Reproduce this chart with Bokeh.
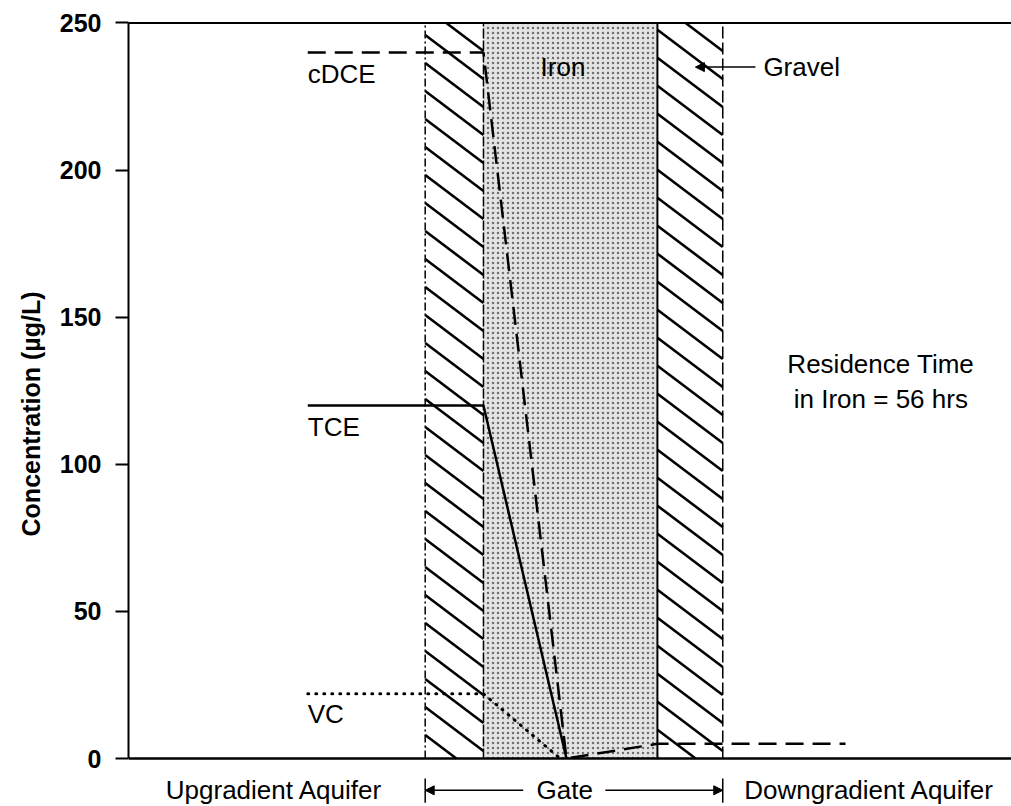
from bokeh.plotting import figure
from bokeh.models import Range1d, FixedTicker, Span, Arrow, NormalHead
from bokeh.core.properties import value
from bokeh.embed import file_html
from bokeh.resources import INLINE

# ---- data (distance along flow path, arbitrary units 0-100; concentration in ug/L)
gravel_left = [33.6, 59.9]
gravel_right = [40.2, 67.3]
iron_left = [40.2]
iron_right = [59.9]

dist_cdce = [20.3, 40.2, 49.6, 59.9, 81.2]
conc_cdce = [240, 240, 0, 5, 5]
dist_tce = [20.3, 40.2, 49.6]
conc_tce = [120, 120, 0]
dist_vc = [20.3, 40.2, 48.9]
conc_vc = [22, 22, 0]

y_ticks = [0, 50, 100, 150, 200, 250]
region_labels = ["Upgradient Aquifer", "Gate", "Downgradient Aquifer"]
region_centers = [16.5, 49.4, 83.9]

FONT = value("Liberation Sans")
X0, X1, Y0, Y1 = 0, 100, -16.3, 250.5
W, H, BL, BT = 1011, 806, 128, 21
PX_X = (W - BL) / (X1 - X0)      # pixels per x unit
PX_Y = (H - BT) / (Y1 - Y0)      # pixels per y unit

p = figure(width=W, height=H, output_backend="svg", toolbar_location=None,
           x_range=Range1d(X0, X1), y_range=Range1d(Y0, Y1),
           x_axis_location=None, y_axis_location="left",
           min_border_left=BL, min_border_right=0, min_border_top=BT, min_border_bottom=0)
p.outline_line_color = None
p.grid.visible = False
p.background_fill_color = "white"

# iron zone (stippled)
p.quad(left=iron_left, right=iron_right, bottom=0, top=250, fill_color="#e4e4e4",
       line_color=None, hatch_pattern="dot", hatch_scale=5, hatch_weight=1.6, hatch_color="#6f6f6f")

# gravel zones: white with diagonal hatch lines (style: ~37 deg, 28 px apart)
hx0, hy0, hx1, hy1 = [], [], [], []
for l, r in zip(gravel_left, gravel_right):
    drop = (r - l) * PX_X * 0.754 / PX_Y
    step = 28 / PX_Y
    y = 250 + drop
    while y > 0:
        xa, ya, xb, yb = l, y, r, y - drop
        if ya > 250:
            xa = l + (ya - 250) / drop * (r - l)
            ya = 250
        if yb < 0:
            xb = l + y / drop * (r - l)
            yb = 0
        if xb > xa:
            hx0.append(xa); hy0.append(ya); hx1.append(xb); hy1.append(yb)
        y -= step
p.quad(left=gravel_left, right=gravel_right, bottom=0, top=250, fill_color="white", line_color=None)
p.segment(x0=hx0, y0=hy0, x1=hx1, y1=hy1, line_color="black", line_width=2.6)

# zone boundaries
p.line([gravel_left[0]] * 2, [0, 250], line_color="black", line_width=1.5, line_dash="8 3 2 3")
p.line([iron_left[0]] * 2, [0, 250], line_color="black", line_width=1.5, line_dash="10 2")
p.line([iron_right[0]] * 2, [0, 250], line_color="black", line_width=2)
p.line([gravel_right[1]] * 2, [0, 250], line_color="black", line_width=1.5, line_dash="12 4")

# frame lines
p.add_layout(Span(location=250, dimension="width", line_color="black", line_width=2))
p.add_layout(Span(location=0, dimension="width", line_color="black", line_width=2.5))

# concentration profiles
p.line(dist_cdce, conc_cdce, line_color="black", line_width=2.5, line_dash="18 9")
p.line(dist_tce, conc_tce, line_color="black", line_width=2.5)
p.line(dist_vc, conc_vc, line_color="black", line_width=3, line_dash="1 7", line_cap="round")

# labels
p.text(x=[dist_cdce[0], dist_tce[0], dist_vc[0]], y=[232.5, 112.6, 15.3],
       text=["cDCE", "TCE", "VC"], text_font=FONT, text_font_size="26px",
       text_baseline="middle", text_align="left", text_color="black")
p.text(x=[49.2], y=[235.2], text=["Iron"], text_font=FONT, text_font_size="26px",
       text_baseline="middle", text_align="center", text_color="black")
p.text(x=[71.9], y=[235.0], text=["Gravel"], text_font=FONT, text_font_size="26px",
       text_baseline="middle", text_align="left", text_color="black")
p.add_layout(Arrow(end=NormalHead(size=9, fill_color="black", line_color="black"),
                   x_start=71.0, y_start=235.0, x_end=64.2, y_end=235.0,
                   line_color="black", line_width=1.5))
p.text(x=[85.2, 85.2], y=[134.0, 122.1], text=["Residence Time", "in Iron = 56 hrs"],
       text_font=FONT, text_font_size="26px", text_baseline="middle", text_align="center",
       text_color="black")

# bottom region labels
p.text(x=region_centers, y=[-10.7] * 3, text=region_labels, text_font=FONT,
       text_font_size="26px", text_baseline="middle", text_align="center", text_color="black")
p.segment(x0=[gravel_left[0], gravel_right[1]], y0=[-6.8, -6.8],
          x1=[gravel_left[0], gravel_right[1]], y1=[-15.0, -15.0], line_color="black", line_width=1.5)
p.add_layout(Arrow(end=NormalHead(size=9, fill_color="black", line_color="black"),
                   x_start=44.7, y_start=-10.8, x_end=gravel_left[0], y_end=-10.8,
                   line_color="black", line_width=1.5))
p.add_layout(Arrow(end=NormalHead(size=9, fill_color="black", line_color="black"),
                   x_start=54.0, y_start=-10.8, x_end=gravel_right[1], y_end=-10.8,
                   line_color="black", line_width=1.5))

# y axis
ax = p.yaxis[0]
ax.ticker = FixedTicker(ticks=y_ticks)
ax.bounds = (0, 250)
ax.axis_label = "Concentration (µg/L)"
ax.axis_label_text_font = "Liberation Sans"
ax.axis_label_text_font_size = "25px"
ax.axis_label_text_font_style = "bold"
ax.axis_label_text_color = "black"
ax.axis_label_standoff = 12
ax.major_label_text_font = "Liberation Sans"
ax.major_label_text_font_size = "25px"
ax.major_label_text_font_style = "bold"
ax.major_label_text_color = "black"
ax.major_label_standoff = 14
ax.major_tick_out = 13
ax.major_tick_in = 0
ax.minor_tick_out = 0
ax.minor_tick_in = 0
ax.axis_line_width = 2
ax.major_tick_line_width = 2
ax.axis_line_color = "black"
ax.major_tick_line_color = "black"

open("out.html", "w").write(file_html(p, INLINE))
